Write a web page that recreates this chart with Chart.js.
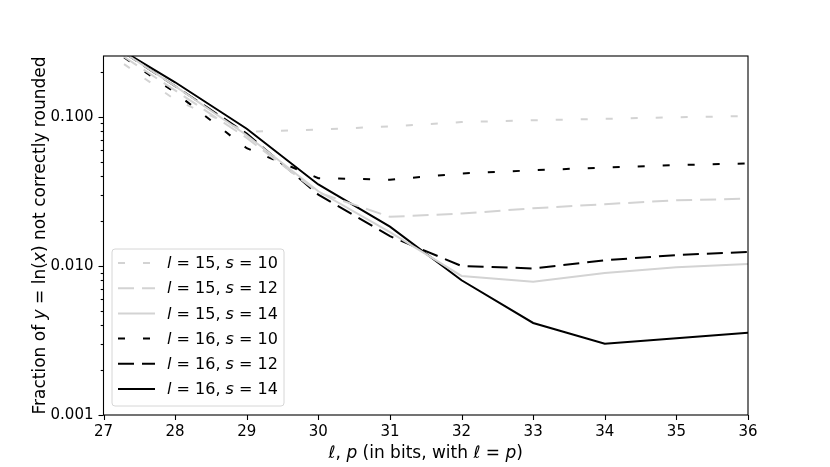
<!DOCTYPE html>
<html>
<head>
<meta charset="utf-8">
<script src="https://cdn.jsdelivr.net/npm/chart.js@4.4.1/dist/chart.umd.min.js"></script>
<style>
  html, body { margin: 0; padding: 0; background: #fff; }
</style>
</head>
<body>
<canvas id="chart" width="830" height="467"></canvas>
<script>
// data
const bits = [27, 28, 29, 30, 31, 32, 33, 34, 35, 36];
const l15s10 = [0.28, 0.13, 0.079, 0.082, 0.086, 0.092, 0.0945, 0.0967, 0.099, 0.101];
const l15s12 = [0.31, 0.15, 0.072, 0.031, 0.0213, 0.0224, 0.0243, 0.0259, 0.0275, 0.0282];
const l15s14 = [0.33, 0.16, 0.075, 0.0316, 0.0168, 0.00855, 0.00783, 0.00895, 0.0098, 0.0103];
const l16s10 = [0.31, 0.145, 0.0614, 0.0387, 0.0378, 0.0416, 0.0437, 0.0456, 0.0473, 0.0486];
const l16s12 = [0.33, 0.16, 0.077, 0.030, 0.0158, 0.00997, 0.0096, 0.0109, 0.0118, 0.0124];
const l16s14 = [0.33, 0.17, 0.083, 0.0351, 0.0183, 0.0080, 0.00414, 0.0030, 0.00327, 0.00356];

const xTicks = [27, 28, 29, 30, 31, 32, 33, 34, 35, 36];
const yMajorTicks = [0.001, 0.01, 0.1];
const yTickText = ['0.001', '0.010', '0.100'];

const LABEL_FONT = '17px "DejaVu Sans"';
const LEGEND_FONT = '16px "DejaVu Sans"';
const TICK_SIZE = 15;
const LIGHT = '#d3d3d3';

function pts(vals) {
  return bits.map((b, i) => ({ x: b, y: vals[i] }));
}

// 文本：普通 / 斜体 混排
function drawRich(ctx, parts, x, y, align, font) {
  let w = 0;
  parts.forEach(p => {
    ctx.font = (p[1] ? 'italic ' : '') + font;
    w += ctx.measureText(p[0]).width;
  });
  let cx = align === 'center' ? x - w / 2 : x;
  parts.forEach(p => {
    ctx.font = (p[1] ? 'italic ' : '') + font;
    ctx.fillText(p[0], cx, y);
    cx += ctx.measureText(p[0]).width;
  });
}

const decorPlugin = {
  id: 'decor',
  afterDraw(chart) {
    const ctx = chart.ctx;
    const area = chart.chartArea;
    const xs = chart.scales.x;
    const ys = chart.scales.y;
    ctx.save();
    ctx.strokeStyle = '#000';
    ctx.lineWidth = 1.1;
    ctx.setLineDash([]);

    // tick marks
    xTicks.forEach(v => {
      const px = Math.round(xs.getPixelForValue(v)) + 0.5;
      ctx.beginPath();
      ctx.moveTo(px, area.bottom);
      ctx.lineTo(px, area.bottom + 5);
      ctx.stroke();
    });
    yMajorTicks.forEach(dec => {
      for (let m = 1; m <= 9; m++) {
        const v = dec * m;
        if (v > ys.max * 1.0001) break;
        const py = Math.round(ys.getPixelForValue(v)) + 0.5;
        const len = m === 1 ? 5 : 2.8;
        ctx.beginPath();
        ctx.moveTo(area.left, py);
        ctx.lineTo(area.left - len, py);
        ctx.stroke();
      }
    });

    // frame
    ctx.strokeRect(area.left, area.top, area.right - area.left, area.bottom - area.top);

    // axis titles
    ctx.fillStyle = '#000';
    ctx.textBaseline = 'alphabetic';
    drawRich(ctx, [['\u2113', true], [', ', false], ['p', true], [' (in bits, with ', false],
      ['\u2113', true], [' = ', false], ['p', true], [')', false]],
      (area.left + area.right) / 2, 458, 'center', LABEL_FONT);

    ctx.save();
    ctx.translate(41, (area.top + area.bottom) / 2);
    ctx.rotate(-Math.PI / 2);
    ctx.textBaseline = 'middle';
    drawRich(ctx, [['Fraction of ', false], ['y', true], [' = ln(', false], ['x', true],
      [') not correctly rounded', false]], 0, 0, 'center', LABEL_FONT);
    ctx.restore();

    // legend
    const bx = 112, by = 249, bw = 172, bh = 157, r = 3;
    ctx.beginPath();
    ctx.moveTo(bx + r, by);
    ctx.arcTo(bx + bw, by, bx + bw, by + bh, r);
    ctx.arcTo(bx + bw, by + bh, bx, by + bh, r);
    ctx.arcTo(bx, by + bh, bx, by, r);
    ctx.arcTo(bx, by, bx + bw, by, r);
    ctx.closePath();
    ctx.fillStyle = 'rgba(255,255,255,0.8)';
    ctx.fill();
    ctx.strokeStyle = '#d6d6d6';
    ctx.lineWidth = 1;
    ctx.stroke();

    chart.data.datasets.forEach((ds, i) => {
      const yy = 263 + i * 25.2;
      ctx.beginPath();
      ctx.setLineDash(ds.borderDash || []);
      ctx.strokeStyle = ds.borderColor;
      ctx.lineWidth = ds.borderWidth;
      ctx.moveTo(118, yy);
      ctx.lineTo(155, yy);
      ctx.stroke();
      ctx.setLineDash([]);
      ctx.fillStyle = '#000';
      ctx.textBaseline = 'middle';
      drawRich(ctx, ds.richLabel, 167, yy + 1, 'left', LEGEND_FONT);
    });
    ctx.restore();
  }
};

function series(vals, color, dash, l, s) {
  return {
    label: 'l = ' + l + ', s = ' + s,
    richLabel: [['l', true], [' = ' + l + ', ', false], ['s', true], [' = ' + s, false]],
    data: pts(vals),
    borderColor: color,
    borderWidth: 2,
    borderDash: dash,
    pointRadius: 0,
    fill: false,
    tension: 0
  };
}

const SHORT = [7, 18];
const LONG = [16, 8];

new Chart(document.getElementById('chart').getContext('2d'), {
  type: 'line',
  data: {
    datasets: [
      series(l15s10, LIGHT, SHORT, 15, 10),
      series(l15s12, LIGHT, LONG, 15, 12),
      series(l15s14, LIGHT, [], 15, 14),
      series(l16s10, '#000', SHORT, 16, 10),
      series(l16s12, '#000', LONG, 16, 12),
      series(l16s14, '#000', [], 16, 14)
    ]
  },
  options: {
    responsive: false,
    animation: false,
    layout: { padding: { left: 0, top: 56, right: 82, bottom: 0 } },
    plugins: {
      legend: { display: false },
      tooltip: { enabled: false }
    },
    scales: {
      x: {
        type: 'linear',
        min: 27,
        max: 36,
        afterBuildTicks: scale => { scale.ticks = xTicks.map(v => ({ value: v })); },
        afterFit: scale => { scale.height = 52; },
        grid: { display: true, drawOnChartArea: false, drawTicks: true, tickLength: 5, tickColor: 'rgba(0,0,0,0)' },
        border: { display: false },
        ticks: { color: '#000', font: { family: 'DejaVu Sans', size: TICK_SIZE }, padding: 3, maxRotation: 0, autoSkip: false }
      },
      y: {
        type: 'logarithmic',
        min: 0.001,
        max: 0.255,
        afterBuildTicks: scale => { scale.ticks = yMajorTicks.map(v => ({ value: v })); },
        afterFit: scale => { scale.width = 103.5; },
        grid: { display: true, drawOnChartArea: false, drawTicks: true, tickLength: 5, tickColor: 'rgba(0,0,0,0)' },
        border: { display: false },
        ticks: {
          color: '#000',
          font: { family: 'DejaVu Sans', size: TICK_SIZE },
          padding: 5,
          autoSkip: false,
          callback: (v, i) => yTickText[i]
        }
      }
    }
  },
  plugins: [decorPlugin]
});
</script>
</body>
</html>
